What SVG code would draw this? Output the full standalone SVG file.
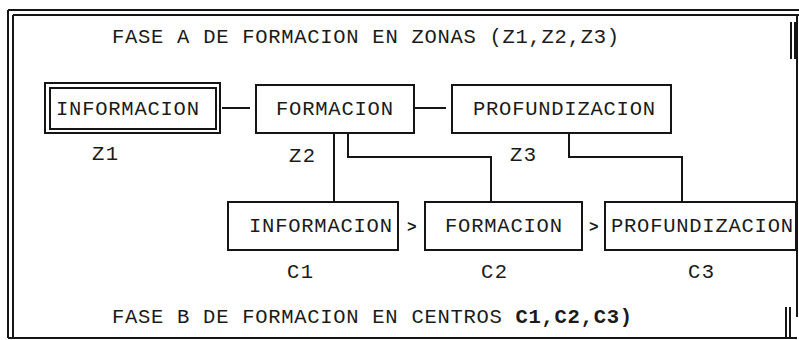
<svg xmlns="http://www.w3.org/2000/svg" width="799" height="340" viewBox="0 0 799 340">
<style>
.ln{stroke:#151515;stroke-width:2;fill:none}
.bx{stroke:#151515;stroke-width:2;fill:#fff}
.t{font-family:"Liberation Mono","DejaVu Sans Mono",monospace;font-size:20.5px;fill:#1a1a1a}
.ch{font-family:"Liberation Mono","DejaVu Sans Mono",monospace;font-size:16px;font-weight:bold;fill:#1a1a1a}
</style>
<rect width="799" height="340" fill="#fff"/>
<g id="frame" class="ln">
<path d="M8 10H799M13 15H799M8 10V338M13 15V338M8 338H797M797 15V317"/>
<path d="M791 22V59M795 22V59M786 307V338M790 307V338"/>
</g>
<text class="t" x="112" y="43" textLength="507" lengthAdjust="spacing">FASE A DE FORMACION EN ZONAS (Z1,Z2,Z3)</text>
<g id="connectors" class="ln">
<path d="M222 108H250"/>
<path d="M415 108H446"/>
<path d="M334 133V202"/>
<path d="M348 133V157H491V202"/>
<path d="M569 133V157H682V202"/>
</g>
<g id="z1">
<rect class="bx" x="45" y="83" width="175" height="50"/>
<rect class="bx" x="50" y="88" width="166" height="41"/>
<text class="t" x="56" y="115" textLength="143" lengthAdjust="spacing">INFORMACION</text>
<text class="t" x="92" y="160" textLength="26" lengthAdjust="spacing">Z1</text>
</g>
<g id="z2">
<rect class="bx" x="256" y="85" width="158" height="48"/>
<text class="t" x="276" y="115" textLength="117" lengthAdjust="spacing">FORMACION</text>
<text class="t" x="289" y="162" textLength="26" lengthAdjust="spacing">Z2</text>
</g>
<g id="z3">
<rect class="bx" x="452" y="85" width="219" height="48"/>
<text class="t" x="473" y="115" textLength="182" lengthAdjust="spacing">PROFUNDIZACION</text>
<text class="t" x="510" y="161" textLength="26" lengthAdjust="spacing">Z3</text>
</g>
<g id="c1">
<rect class="bx" x="228" y="202" width="170" height="48"/>
<text class="t" x="249" y="232" textLength="143" lengthAdjust="spacing">INFORMACION</text>
<text class="t" x="287" y="278" textLength="26" lengthAdjust="spacing">C1</text>
</g>
<text class="ch" x="407" y="232">&gt;</text>
<g id="c2">
<rect class="bx" x="425" y="202" width="157" height="48"/>
<text class="t" x="445" y="232" textLength="117" lengthAdjust="spacing">FORMACION</text>
<text class="t" x="481" y="278" textLength="26" lengthAdjust="spacing">C2</text>
</g>
<text class="ch" x="589" y="232">&gt;</text>
<g id="c3">
<rect class="bx" x="605" y="202" width="191" height="48"/>
<text class="t" x="611" y="232" textLength="182" lengthAdjust="spacing">PROFUNDIZACION</text>
<text class="t" x="688" y="278" textLength="26" lengthAdjust="spacing">C3</text>
</g>
<text class="t" x="112" y="323" textLength="520" lengthAdjust="spacing">FASE B DE FORMACION EN CENTROS <tspan font-weight="bold">C1,C2,C3)</tspan></text>
</svg>
